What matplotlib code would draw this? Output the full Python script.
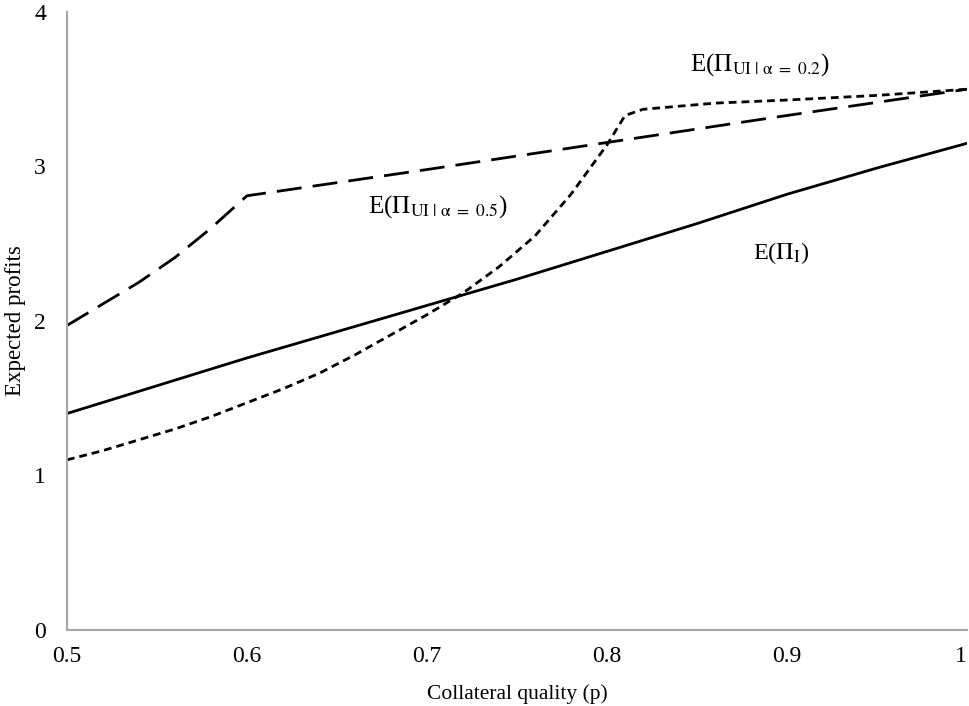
import matplotlib
matplotlib.use("Agg")
import matplotlib.pyplot as plt

plt.rcParams['font.family'] = ['Liberation Serif', 'DejaVu Serif']
plt.rcParams['mathtext.fontset'] = 'stix'

# E(Pi_I)
p_inf = [0.5, 0.55, 0.6, 0.65, 0.7, 0.75, 0.8, 0.85, 0.9, 0.95, 1.0]
e_inf = [1.40, 1.58, 1.76, 1.93, 2.10, 2.27, 2.45, 2.63, 2.82, 2.99, 3.15]

# E(Pi_UI | alpha = 0.5)
p_a05 = [0.5, 0.52, 0.54, 0.56, 0.58, 0.6, 0.7, 0.8, 0.9, 1.0]
e_a05 = [1.97, 2.11, 2.25, 2.41, 2.60, 2.81, 2.98, 3.155, 3.33, 3.50]

# E(Pi_UI | alpha = 0.2)
p_a02 = [0.5, 0.52, 0.54, 0.56, 0.58, 0.6, 0.62, 0.64, 0.66, 0.68, 0.7,
         0.72, 0.74, 0.76, 0.78, 0.8, 0.81, 0.82, 0.86, 0.9, 0.95, 1.0]
e_a02 = [1.10, 1.16, 1.23, 1.30, 1.38, 1.47, 1.56, 1.66, 1.78, 1.91, 2.04,
         2.18, 2.35, 2.55, 2.82, 3.14, 3.33, 3.37, 3.41, 3.43, 3.46, 3.50]

fig = plt.figure(figsize=(9.7, 7.06), dpi=100)
ax = fig.add_axes([0.069, 0.108, 0.928, 0.875])

ax.plot(p_inf, e_inf, color='black', lw=2)
ax.plot(p_a05, e_a05, color='black', lw=2, dashes=(9, 4))
ax.plot(p_a02, e_a02, color='black', lw=2, dashes=(2.8, 1.8))

ax.text(0.846, 3.66, r'E($\Pi_{\mathrm{UI}\ |\ \mathrm{\alpha}\ =\ 0.2}$)', fontsize=18, va='center')
ax.text(0.667, 2.74, r'E($\Pi_{\mathrm{UI}\ |\ \mathrm{\alpha}\ =\ 0.5}$)', fontsize=18, va='center')
ax.text(0.881, 2.44, r'E($\Pi_{\mathrm{I}}$)', fontsize=17.5, va='center')

ax.set_xlim(0.5, 1.0)
ax.set_ylim(0, 4)
ax.set_xticks([0.5, 0.6, 0.7, 0.8, 0.9, 1.0])
ax.set_xticklabels(['0.5', '0.6', '0.7', '0.8', '0.9', '1'])
ax.get_xticklabels()[-1].set_ha('right')
ax.set_yticks([0, 1, 2, 3, 4])
ax.tick_params(length=0, labelsize=17, pad=12)
ax.tick_params(axis='y', pad=15)

for s in ['top', 'right']:
    ax.spines[s].set_visible(False)
for s in ['left', 'bottom']:
    ax.spines[s].set_color('#a6a6a6')
    ax.spines[s].set_linewidth(1.5)

ax.set_xlabel('Collateral quality (p)', fontsize=15.5, labelpad=12)
ax.set_ylabel('Expected profits', fontsize=16.5)
ax.yaxis.set_label_coords(-0.045, 0.5)

fig.savefig('out.png', dpi=100)
